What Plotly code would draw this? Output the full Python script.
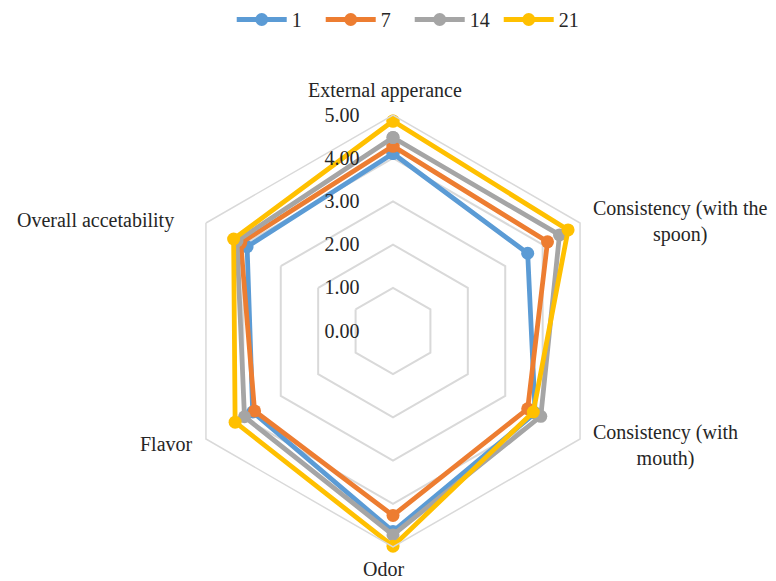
import plotly.graph_objects as go

categories = ["External apperance", "Consistency (with the spoon)", "Consistency (with mouth)",
              "Odor", "Flavor", "Overall accetability"]
label_texts = ["External apperance", "Consistency (with the<br>spoon)", "Consistency (with<br>mouth)",
               "Odor", "Flavor", "Overall accetability"]
series_names = ["1", "7", "14", "21"]
values_1 = [4.11, 3.60, 3.80, 4.64, 3.75, 3.90]
values_7 = [4.28, 4.13, 3.60, 4.27, 3.70, 4.07]
values_14 = [4.48, 4.45, 3.95, 4.72, 3.97, 4.17]
values_21 = [4.86, 4.68, 3.75, 4.98, 4.22, 4.26]
colors = ["#5B9BD5", "#ED7D31", "#A5A5A5", "#FFC000"]
tick_vals = [0, 1, 2, 3, 4, 5]
tick_text = [f"{v:.2f}\u2003\u2002" for v in tick_vals]

FONT = "Liberation Serif"
TXT = "#262626"
W, H = 776, 581
cx, cy, R = 393, 331, 216

fig = go.Figure()
for name, vals, col in zip(series_names, [values_1, values_7, values_14, values_21], colors):
    fig.add_trace(go.Scatterpolar(
        r=vals + vals[:1], theta=categories + categories[:1], name=name,
        mode="lines+markers", line=dict(color=col, width=4.8),
        marker=dict(color=col, size=13), cliponaxis=False))

# category label placement (pixel centres of each text block in the layout)
label_px = [(385, 91), (680, 221), (665, 445), (383, 569), (166, 444), (95, 220)]
for txt, (px, py) in zip(label_texts, label_px):
    fig.add_annotation(x=px / W, y=1 - py / H, xref="paper", yref="paper", text=txt,
                       showarrow=False, align="center", xanchor="center", yanchor="middle",
                       font=dict(family=FONT, size=20, color=TXT))

fig.update_layout(
    width=W, height=H, margin=dict(l=0, r=0, t=0, b=0),
    paper_bgcolor="white", plot_bgcolor="white",
    font=dict(family=FONT, size=20, color=TXT),
    showlegend=True,
    legend=dict(orientation="h", x=0.528, xanchor="center", y=1.0, yanchor="top",
                font=dict(size=20), traceorder="normal", itemwidth=50,
                entrywidth=24, entrywidthmode="pixels"),
    polar=dict(
        domain=dict(x=[(cx - R) / W, (cx + R) / W], y=[(H - cy - R) / H, (H - cy + R) / H]),
        bgcolor="white", gridshape="linear",
        radialaxis=dict(range=[0, 5], tickvals=tick_vals, ticktext=tick_text,
                        angle=90, tickangle=90, side="counterclockwise",
                        showline=False, ticks="", gridcolor="#D9D9D9", gridwidth=1.5,
                        tickfont=dict(size=20, color=TXT)),
        angularaxis=dict(rotation=90, direction="clockwise", showgrid=False,
                         showticklabels=False,
                         showline=True, linecolor="#D9D9D9", linewidth=1.5, ticks=""),
    ),
)
fig.write_html("out.html")
